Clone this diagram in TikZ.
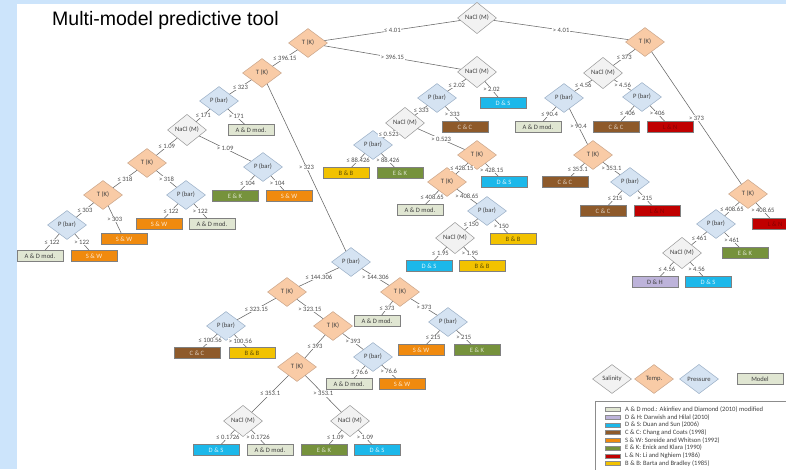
\documentclass[tikz,border=0pt]{standalone}
\usepackage{fontspec}
\setmainfont{Carlito}
\newfontfamily\titlefont{Liberation Sans}
\usetikzlibrary{shapes.geometric}
\definecolor{bgblue}{HTML}{CCE4FB}
\definecolor{salfill}{HTML}{F2F2F2}
\definecolor{tempfill}{HTML}{F9CBA6}
\definecolor{tempdraw}{HTML}{C9A58A}
\definecolor{presfill}{HTML}{D5E3F2}
\definecolor{presdraw}{HTML}{9AAFC6}
\definecolor{cAD}{HTML}{E0E6D2}
\definecolor{cDH}{HTML}{BDB3DA}
\definecolor{cDS}{HTML}{1CB8EA}
\definecolor{cCC}{HTML}{8E5A2A}
\definecolor{cSW}{HTML}{F08A0E}
\definecolor{cEK}{HTML}{76923C}
\definecolor{cLN}{HTML}{C00000}
\definecolor{cBB}{HTML}{F2C200}
\tikzset{
  small/.style={font=\fontsize{6.6}{7.5}\selectfont},
  dia/.style={diamond, small, draw=black!40, line width=0.5pt, minimum width=39pt, minimum height=29pt, inner sep=0.5pt, text=black!75},
  sal/.style={dia, fill=salfill},
  tmp/.style={dia, fill=tempfill, draw=tempdraw},
  prs/.style={dia, fill=presfill, draw=presdraw},
  mbox/.style={rectangle, small, draw=black!50, line width=0.6pt, minimum width=46pt, minimum height=11pt, inner sep=0pt, text=black!75},
  AD/.style={mbox, fill=cAD},
  DH/.style={mbox, fill=cDH},
  DS/.style={mbox, fill=cDS, text=white!85!cDS},
  CC/.style={mbox, fill=cCC, text=white!70!cCC},
  SW/.style={mbox, fill=cSW, text=white!80!cSW},
  EK/.style={mbox, fill=cEK, text=white!75!cEK},
  LN/.style={mbox, fill=cLN, text=cLN!70!black},
  BB/.style={mbox, fill=cBB, text=cBB!40!black},
  conn/.style={draw=black!60, line width=0.55pt},
  lbl/.style={small, fill=white, inner sep=0.6pt, text=black!70},
  legtxt/.style={small, anchor=west, inner sep=0pt, text=black!75},
}
\begin{document}
\begin{tikzpicture}[x=1pt,y=-1pt]
\useasboundingbox (0,0) rectangle (786,469);
\clip (0,0) rectangle (786,469);
\fill[bgblue] (0,0) rectangle (786,469);
\fill[white] (17,4) rectangle (786,469);
\node[anchor=west, inner sep=0pt, font=\titlefont\fontsize{19.5}{22}\selectfont] (title) at (52,20) {Multi-model predictive tool};

% decision nodes
\node[sal] (r) at (477,18) {NaCl (M)};
\node[tmp] (t1) at (308,43) {T (K)};
\node[tmp] (t2) at (645,42) {T (K)};
\node[tmp] (t3) at (262,73) {T (K)};
\node[sal] (n1) at (477,72) {NaCl (M)};
\node[prs] (p1) at (219,101) {P (bar)};
\node[prs] (p2) at (351,262) {P (bar)};
\node[sal] (n2) at (187,130) {NaCl (M)};
\node[AD] (b1) at (251,130) {A \& D mod.};
\node[tmp] (t4) at (147,163) {T (K)};
\node[prs] (p3) at (263,167) {P (bar)};
\node[EK] (b2) at (235,196) {E \& K};
\node[SW] (b3) at (289,196) {S \& W};
\node[tmp] (t5) at (103,195) {T (K)};
\node[prs] (p4) at (186,195) {P (bar)};
\node[prs] (p5) at (67,225) {P (bar)};
\node[SW] (b4) at (124,239) {S \& W};
\node[SW] (b5) at (159,224) {S \& W};
\node[AD] (b6) at (212,224) {A \& D mod.};
\node[AD] (b7) at (40,256) {A \& D mod.};
\node[SW] (b8) at (94,256) {S \& W};
\node[prs] (p6) at (437,98) {P (bar)};
\node[DS] (b9) at (503,103) {D \& S};
\node[sal] (n3) at (405,123) {NaCl (M)};
\node[CC] (b10) at (465,127) {C \& C};
\node[prs] (p7) at (373,145) {P (bar)};
\node[tmp] (t6) at (477,155) {T (K)};
\node[BB] (b11) at (346,173) {B \& B};
\node[EK] (b12) at (400,173) {E \& K};
\node[tmp] (t7) at (447,182) {T (K)};
\node[DS] (b13) at (504,182) {D \& S};
\node[AD] (b14) at (420,210) {A \& D mod.};
\node[prs] (p8) at (487,211) {P (bar)};
\node[sal] (n4) at (455,238) {NaCl (M)};
\node[BB] (b15) at (513,239) {B \& B};
\node[DS] (b16) at (429,266) {D \& S};
\node[BB] (b17) at (482,266) {B \& B};
\node[sal] (n5) at (603,73) {NaCl (M)};
\node[tmp] (t8) at (748,194) {T (K)};
\node[prs] (p9) at (564,98) {P (bar)};
\node[prs] (p10) at (642,97) {P (bar)};
\node[AD] (b18) at (538,127) {A \& D mod.};
\node[tmp] (t9) at (593,155) {T (K)};
\node[CC] (b19) at (616,127) {C \& C};
\node[LN] (b20) at (670,127) {L \& N};
\node[CC] (b21) at (565,182) {C \& C};
\node[prs] (p11) at (630,182) {P (bar)};
\node[CC] (b22) at (603,211) {C \& C};
\node[LN] (b23) at (657,211) {L \& N};
\node[prs] (p12) at (716,224) {P (bar)};
\node[LN] (b24) at (775,224) {L \& N};
\node[sal] (n6) at (682,253) {NaCl (M)};
\node[EK] (b25) at (745,253) {E \& K};
\node[DH] (b26) at (655,282) {D \& H};
\node[DS] (b27) at (708,282) {D \& S};
\node[tmp] (t10) at (287,292) {T (K)};
\node[tmp] (t11) at (400,292) {T (K)};
\node[prs] (p13) at (226,326) {P (bar)};
\node[tmp] (t12) at (333,326) {T (K)};
\node[CC] (b28) at (197,353) {C \& C};
\node[BB] (b29) at (252,353) {B \& B};
\node[AD] (b30) at (377,321) {A \& D mod.};
\node[prs] (p14) at (448,322) {P (bar)};
\node[SW] (b31) at (421,350) {S \& W};
\node[EK] (b32) at (477,350) {E \& K};
\node[tmp] (t13) at (297,367) {T (K)};
\node[prs] (p15) at (373,357) {P (bar)};
\node[AD] (b33) at (349,384) {A \& D mod.};
\node[SW] (b34) at (402,384) {S \& W};
\node[sal] (n7) at (243,421) {NaCl (M)};
\node[sal] (n8) at (350,421) {NaCl (M)};
\node[DS] (b35) at (216,450) {D \& S};
\node[AD] (b36) at (270,450) {A \& D mod.};
\node[EK] (b37) at (324,450) {E \& K};
\node[DS] (b38) at (377,450) {D \& S};

% connectors
\foreach \a/\b/\l in {
 r/t1/≤ 4.01, r/t2/> 4.01,
 t1/t3/≤ 396.15, t1/n1/> 396.15,
 t3/p1/≤ 323, t3/p2/> 323,
 p1/n2/≤ 171, p1/b1/> 171,
 n2/t4/≤ 1.09, n2/p3/> 1.09,
 p3/b2/≤ 104, p3/b3/> 104,
 t4/t5/≤ 318, t4/p4/> 318,
 t5/p5/≤ 303, t5/b4/> 303,
 p4/b5/≤ 122, p4/b6/> 122,
 p5/b7/≤ 122, p5/b8/> 122,
 n1/p6/≤ 2.02, n1/b9/> 2.02,
 p6/n3/≤ 333, p6/b10/> 333,
 n3/p7/≤ 0.523, n3/t6/> 0.523,
 p7/b11/≤ 88.426, p7/b12/> 88.426,
 t6/t7/≤ 428.15, t6/b13/> 428.15,
 t7/b14/≤ 408.65, t7/p8/> 408.65,
 p8/n4/≤ 150, p8/b15/> 150,
 n4/b16/≤ 1.95, n4/b17/> 1.95,
 t2/n5/≤ 373, t2/t8/> 373,
 n5/p9/≤ 4.56, n5/p10/> 4.56,
 p9/b18/≤ 90.4, p9/t9/> 90.4,
 p10/b19/≤ 406, p10/b20/> 406,
 t9/b21/≤ 353.1, t9/p11/> 353.1,
 p11/b22/≤ 215, p11/b23/> 215,
 t8/p12/≤ 408.65, t8/b24/> 408.65,
 p12/n6/≤ 461, p12/b25/> 461,
 n6/b26/≤ 4.56, n6/b27/> 4.56,
 p2/t10/≤ 144.306, p2/t11/> 144.306,
 t10/p13/≤ 323.15, t10/t12/> 323.15,
 p13/b28/≤ 100.56, p13/b29/> 100.56,
 t11/b30/≤ 373, t11/p14/> 373,
 p14/b31/≤ 215, p14/b32/> 215,
 t12/t13/≤ 393, t12/p15/> 393,
 p15/b33/≤ 76.6, p15/b34/> 76.6,
 t13/n7/≤ 353.1, t13/n8/> 353.1,
 n7/b35/≤ 0.1726, n7/b36/> 0.1726,
 n8/b37/≤ 1.09, n8/b38/> 1.09}
 {\draw[conn] (\a) -- node[lbl] {\l} (\b);}

% legend shapes
\node[sal] (ls) at (612,379) {Salinity};
\node[tmp] (lt) at (654,379) {Temp.};
\node[prs] (lp) at (699,379) {Pressure};
\node[AD] (lm) at (760,379) {Model};

% legend box
\draw[black!45, line width=0.5pt] (595,401) rectangle (800,480);
\foreach \c/\t [count=\i from 0] in {
 cAD/{A \& D mod.: Akinfiev and Diamond (2010) modified},
 cDH/{D \& H: Darwish and Hilal (2010)},
 cDS/{D \& S: Duan and Sun (2006)},
 cCC/{C \& C: Chang and Coats (1998)},
 cSW/{S \& W: Soreide and Whitson (1992)},
 cEK/{E \& K: Enick and Klara (1990)},
 cLN/{L \& N: Li and Nghiem (1986)},
 cBB/{B \& B: Barta and Bradley (1985)}}
{
 \pgfmathsetmacro\yy{409.5+7.7*\i}
 \draw[fill=\c, draw=black!45, line width=0.4pt] (605,\yy-2) rectangle (620,\yy+2);
 \node[legtxt] (leg\i) at (625,\yy) {\t};
}
\end{tikzpicture}
\end{document}
